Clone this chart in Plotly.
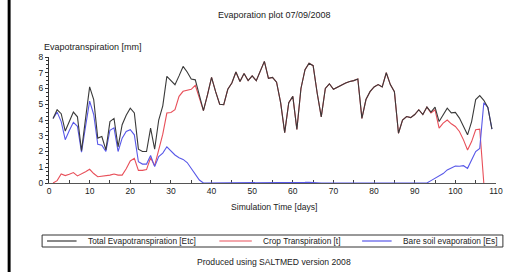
import plotly.graph_objects as go

days = list(range(1, 110))

total_etc = [4.1, 4.65, 4.4, 3.3, 3.9, 4.5, 4.2, 2.05, 4.1, 6.1,
             5.3, 2.85, 2.95, 2.1, 3.9, 4.1, 2.3, 3.7, 4.3, 4.75,
             4.45, 2.15, 2.0, 2.0, 3.48, 2.15, 4.0, 4.9, 6.77, 6.5,
             6.24, 6.8, 7.4, 7.05, 6.6, 6.55, 5.5, 4.6, 5.6, 6.7,
             5.8, 5.0, 4.97, 5.95, 6.35, 7.05, 6.45, 6.95, 6.5, 6.8,
             6.5, 7.15, 7.72, 6.65, 6.7, 6.4, 5.1, 3.2, 5.1, 5.5,
             3.4, 6.0, 7.2, 7.6, 7.45, 5.7, 4.2, 6.0, 6.3, 5.95,
             6.1, 6.2, 6.35, 6.45, 6.5, 6.6, 4.1, 5.3, 5.8, 6.1,
             6.25, 6.1, 7.0, 6.25, 5.8, 3.16, 4.0, 4.22, 4.15, 4.35,
             4.65, 4.35, 4.82, 4.5, 4.82, 3.9, 4.33, 4.75, 4.45, 4.48,
             4.12, 3.6, 3.06, 3.9, 5.3, 5.55, 5.25, 4.8, 3.42]

crop_t = [0.0, 0.15, 0.57, 0.47, 0.55, 0.66, 0.45, 0.57, 0.72, 0.87,
          0.6, 0.4, 0.42, 0.45, 0.5, 0.57, 0.5, 0.5, 0.9, 1.4,
          1.57, 0.8, 0.8, 0.85, 1.6, 1.1, 2.1, 3.1, 4.44, 4.48,
          4.65, 5.5, 5.82, 5.9, 5.95, 6.2, 5.35, 4.6, 5.6, 6.7,
          5.8, 5.0, 4.97, 5.95, 6.35, 7.05, 6.45, 6.95, 6.5, 6.8,
          6.5, 7.15, 7.72, 6.65, 6.7, 6.4, 5.1, 3.2, 5.1, 5.5,
          3.4, 6.0, 7.2, 7.6, 7.45, 5.7, 4.2, 6.0, 6.3, 5.95,
          6.1, 6.2, 6.35, 6.45, 6.5, 6.6, 4.1, 5.3, 5.8, 6.1,
          6.25, 6.1, 7.0, 6.25, 5.8, 3.16, 4.0, 4.22, 4.15, 4.35,
          4.65, 4.35, 4.82, 4.45, 4.65, 3.48, 3.8, 4.0, 3.76, 3.59,
          3.27, 2.74, 2.1, 2.63, 3.38, 3.42, 0.0]

bare_es = [4.1, 4.5, 3.9, 2.75, 3.33, 3.85, 3.6, 1.95, 3.6, 5.2,
           4.35, 2.45, 2.4, 2.0, 3.35, 3.5, 2.0, 2.85, 3.27, 3.38,
           3.06, 1.35, 1.2, 1.2, 1.75, 1.04, 1.68, 1.9, 2.3, 2.05,
           1.78, 1.6, 1.5, 1.3, 0.95, 0.55, 0.19, 0.0, 0.0, 0.0,
           0.0, 0.0, 0.0, 0.02, 0.04, 0.02, 0.0, 0.0, 0.0, 0.02,
           0.03, 0.04, 0.02, 0.0, 0.0, 0.0, 0.0, 0.0, 0.0, 0.0,
           0.0, 0.02, 0.04, 0.05, 0.02, 0.0, 0.0, 0.0, 0.0, 0.0,
           0.0, 0.0, 0.0, 0.0, 0.0, 0.0, 0.0, 0.0, 0.0, 0.02,
           0.03, 0.0, 0.0, 0.0, 0.0, 0.0, 0.0, 0.0, 0.0, 0.0,
           0.0, 0.0, 0.0, 0.15, 0.3, 0.45, 0.6, 0.83, 0.98, 1.08,
           1.06, 1.1, 0.93, 1.46, 2.0, 2.2, 5.1, 4.8, 3.42]

x_ticks = [0, 10, 20, 30, 40, 50, 60, 70, 80, 90, 100, 110]
y_ticks = [0, 1, 2, 3, 4, 5, 6, 7, 8]

series_names = ["Total Evapotranspiration [Etc]", "Crop Transpiration [t]",
                "Bare soil evaporation [Es]"]
series_colors = ["#3a3a3a", "#e8505a", "#5858e8"]

W, H = 514, 272
L, R, T, B = 49, 503, 57, 183


def px(xp):
    return (xp - L) / (R - L)


def py(yp):
    return (B - yp) / (B - T)


FONT = "Liberation Sans, Arial, sans-serif"

fig = go.Figure()
n_crop = len(crop_t)
fig.add_trace(go.Scatter(x=days[:n_crop], y=crop_t, mode="lines",
                         line=dict(color=series_colors[1], width=1.1),
                         name=series_names[1]))
fig.add_trace(go.Scatter(x=days, y=bare_es, mode="lines",
                         line=dict(color=series_colors[2], width=1.1),
                         name=series_names[2]))
fig.add_trace(go.Scatter(x=days, y=total_etc, mode="lines",
                         line=dict(color=series_colors[0], width=1.1),
                         name=series_names[0]))

fig.update_layout(
    width=W, height=H,
    margin=dict(l=L, r=W - R, t=T, b=H - B, pad=0),
    paper_bgcolor="white", plot_bgcolor="white",
    showlegend=False,
    font=dict(family=FONT, size=9, color="#222"),
)

fig.update_xaxes(
    range=[0, 110], tickvals=x_ticks, ticktext=[str(v) for v in x_ticks],
    showgrid=False, zeroline=False, showline=True, linecolor="#555", linewidth=1,
    ticks="inside", ticklen=3, tickcolor="#444",
    minor=dict(dtick=5, ticks="inside", ticklen=3, tickcolor="#444", showgrid=False),
    tickfont=dict(family=FONT, size=8.5, color="#222"),
    layer="below traces",
)
fig.update_yaxes(
    range=[0, 8], tickvals=y_ticks, ticktext=[str(v) for v in y_ticks],
    showgrid=False, zeroline=False, showline=True, linecolor="#333", linewidth=1,
    ticks="outside", ticklen=3, tickcolor="#333",
    minor=dict(dtick=0.25, ticks="outside", ticklen=2, tickcolor="#333", showgrid=False),
    tickfont=dict(family=FONT, size=8.5, color="#222"),
    layer="below traces",
)

ann = []
ann.append(dict(text="Evaporation plot 07/09/2008", x=px(278), y=py(15),
                xref="paper", yref="paper", xanchor="center", yanchor="middle",
                showarrow=False, font=dict(family=FONT, size=9, color="#222")))
ann.append(dict(text="Evapotranspiration [mm]", x=px(42), y=py(47),
                xref="paper", yref="paper", xanchor="left", yanchor="middle",
                showarrow=False, font=dict(family=FONT, size=9, color="#222")))
ann.append(dict(text="Simulation Time [days]", x=px(278), y=py(207),
                xref="paper", yref="paper", xanchor="center", yanchor="middle",
                showarrow=False, font=dict(family=FONT, size=8.6, color="#222")))
ann.append(dict(text="Produced using SALTMED version 2008", x=px(278), y=py(262),
                xref="paper", yref="paper", xanchor="center", yanchor="middle",
                showarrow=False, font=dict(family=FONT, size=8.6, color="#222")))

shapes = []
# left black border bar
shapes.append(dict(type="rect", xref="paper", yref="paper",
                   x0=px(7), x1=px(10), y0=py(H), y1=py(0),
                   fillcolor="black", line=dict(width=0)))
# legend box
leg_y = 241
shapes.append(dict(type="rect", xref="paper", yref="paper",
                   x0=px(42), x1=px(510), y0=py(leg_y + 6), y1=py(leg_y - 6),
                   fillcolor="rgba(0,0,0,0)", line=dict(color="#333", width=1)))
samples = [(47, 77, 87), (222, 255, 264), (367, 397, 407)]
for (a, b, t), name, col in zip(samples, series_names, series_colors):
    shapes.append(dict(type="line", xref="paper", yref="paper",
                       x0=px(a), x1=px(b), y0=py(leg_y), y1=py(leg_y),
                       line=dict(color=col, width=1.2)))
    ann.append(dict(text=name, x=px(t), y=py(leg_y), xref="paper", yref="paper",
                    xanchor="left", yanchor="middle", showarrow=False,
                    font=dict(family=FONT, size=8.3, color="#222")))

fig.update_layout(annotations=ann, shapes=shapes)

fig.write_html("out.html", config={"displayModeBar": False},
               post_script="document.body.style.margin='0';")
